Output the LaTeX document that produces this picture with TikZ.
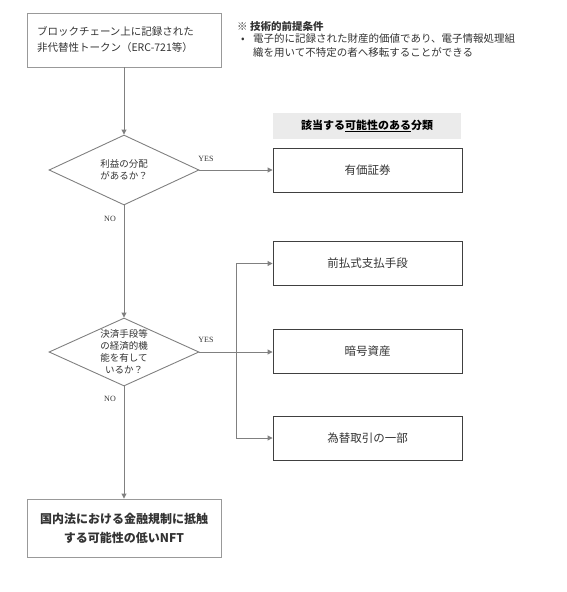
\documentclass[tikz,border=0pt]{standalone}
\usepackage{fontspec}
\setmainfont{Noto Sans CJK JP}
\newfontfamily\latinserif{Liberation Serif}
\usetikzlibrary{shapes.geometric,arrows.meta}
\definecolor{linegray}{HTML}{808080}
\definecolor{boxgray}{HTML}{999999}
\definecolor{darkline}{HTML}{404040}
\definecolor{textdark}{HTML}{333333}
\definecolor{headfill}{HTML}{EBEBEB}
\begin{document}
\begin{tikzpicture}[x=1pt,y=-1pt,
  conn/.style={draw=linegray, line width=0.9pt, -{Triangle[length=5pt,width=5pt]}},
  lbox/.style={draw=boxgray, line width=0.9pt, minimum width=194pt, inner sep=0pt, text=textdark},
  rbox/.style={draw=darkline, line width=0.9pt, minimum width=189pt, minimum height=44pt, inner sep=0pt, font=\fontsize{11.5}{14}\selectfont, text=textdark},
  dia/.style={diamond, draw=linegray, line width=0.9pt, minimum width=150pt, inner sep=0pt},
  dtext/.style={font=\fontsize{9.5}{12}\selectfont, align=center, text=textdark, inner sep=0pt},
  yn/.style={font=\latinserif\fontsize{8}{9}\selectfont, text=textdark, inner sep=0pt},
  note/.style={font=\fontsize{10.5}{14}\selectfont, text=textdark, inner sep=0pt}]
\useasboundingbox (0,0) rectangle (567,592);

% top box
\node[lbox, minimum height=54pt, text width=174pt, align=left,
      font=\fontsize{10.5}{16}\selectfont] (top) at (124,40)
  {ブロックチェーン上に記録された\\非代替性トークン（ERC-721等）};

% note
\node[note, anchor=west, font=\bfseries\fontsize{10.5}{14}\selectfont] (nt) at (237,27) {※ 技術的前提条件};
\node[note] (bul) at (243,40) {\textbullet};
\node[note, anchor=north west, align=left] (nb) at (253,33)
  {電子的に記録された財産的価値であり、電子情報処理組\\織を用いて不特定の者へ移転することができる};

% diamonds
\node[dia, minimum height=70pt] (d1) at (124,170) {};
\node[dtext] (d1t) at (d1.center) {利益の分配\\があるか？};
\node[dia, minimum height=68pt] (d2) at (124,352) {};
\node[dtext] (d2t) at (d2.center) {決済手段等\\の経済的機\\能を有して\\いるか？};

% bottom box
\node[lbox, minimum height=58pt, align=center,
      font=\bfseries\fontsize{12}{19}\selectfont] (bot) at (124,528)
  {国内法における金融規制に抵触\\する可能性の低いNFT};

% header
\node[fill=headfill, minimum width=188pt, minimum height=26pt, inner sep=0pt,
      font=\bfseries\fontsize{11}{14}\selectfont, text=black] (head) at (367,126)
  {該当する\underline{可能性のある}分類};

% right boxes
\node[rbox] (yuka) at (367.5,170.5) {有価証券};
\node[rbox] (pre) at (367.5,263.5) {前払式支払手段};
\node[rbox] (ango) at (367.5,351.5) {暗号資産};
\node[rbox] (kawase) at (367.5,438) {為替取引の一部};

% connectors
\draw[conn] (top.south) -- (d1.north);
\draw[conn] (d1.east) -- (d1.east -| yuka.west);
\draw[conn] (d1.south) -- (d2.north);
\draw[conn] (d2.east) -- (d2.east -| ango.west);
\draw[conn] (d2.south) -- (bot.north);
\coordinate (j) at (236,352);
\draw[conn] (j) |- (pre.west);
\draw[conn] (j) |- (kawase.west);

% labels
\node[yn] (yes1) at (206,159) {YES};
\node[yn] (no1) at (110,219) {NO};
\node[yn] (yes2) at (206,340) {YES};
\node[yn] (no2) at (110,399) {NO};
\end{tikzpicture}
\end{document}
